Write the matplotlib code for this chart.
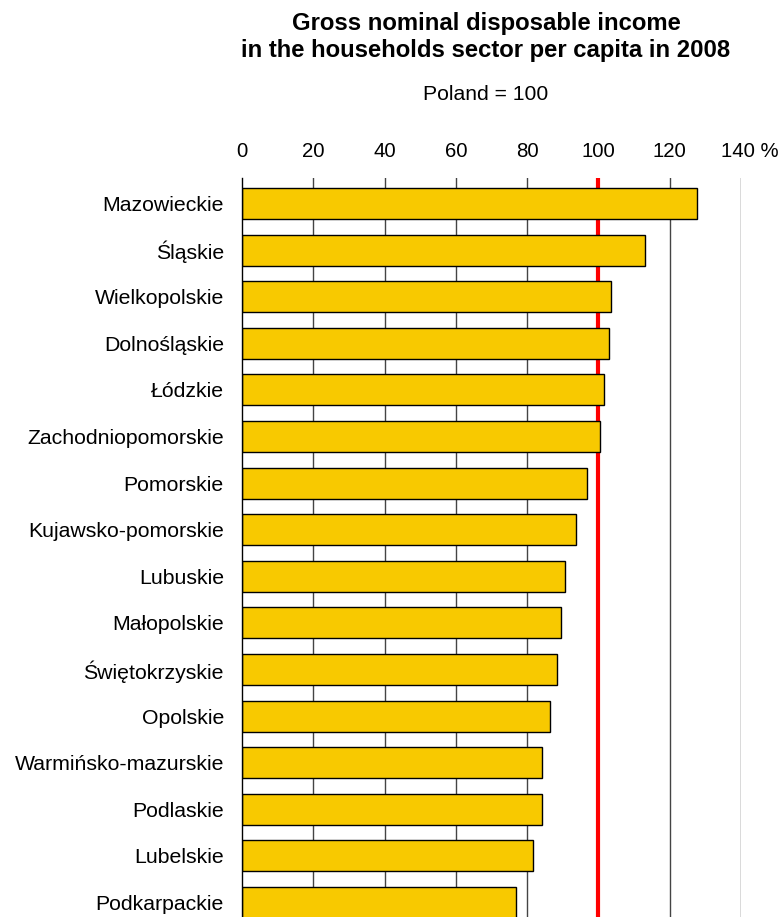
import matplotlib
matplotlib.use("Agg")
import matplotlib.pyplot as plt
import matplotlib.transforms as mtransforms

plt.rcParams['font.family'] = ['Liberation Sans', 'DejaVu Sans']

regions = ["Mazowieckie", "Śląskie", "Wielkopolskie", "Dolnośląskie", "Łódzkie",
           "Zachodniopomorskie", "Pomorskie", "Kujawsko-pomorskie", "Lubuskie",
           "Małopolskie", "Świętokrzyskie", "Opolskie", "Warmińsko-mazurskie",
           "Podlaskie", "Lubelskie", "Podkarpackie"]
values = [127.7, 113.0, 103.5, 103.1, 101.6, 100.5, 96.7, 93.7, 90.7,
          89.5, 88.4, 86.5, 84.2, 84.2, 81.6, 77.0]
xticks = [0, 20, 40, 60, 80, 100, 120, 140]
xticklabels = ["0", "20", "40", "60", "80", "100", "120", "140 %"]
reference = 100

W, H = 781, 917
fig = plt.figure(figsize=(W / 100, H / 100), dpi=100)
ax = fig.add_axes([242 / W, 0, (741 - 242) / W, (917 - 178) / H])

ypos = list(range(len(regions)))
for x in xticks[1:]:
    ax.axvline(x, color='#444444', lw=1.0, zorder=1)
ax.axvline(reference, color='#ff0000', lw=3.0, zorder=2)
ax.barh(ypos, values, height=0.665, color='#f8c900', edgecolor='black',
        linewidth=1.0, zorder=3)

ax.set_xlim(0, 140)
ax.set_ylim(15.311, -0.547)
ax.set_yticks(ypos)
ax.set_yticklabels(regions, fontsize=15.3)
ax.set_xticks(xticks)
ax.set_xticklabels(xticklabels, fontsize=14.7)
ax.xaxis.tick_top()
ax.tick_params(axis='x', length=0, pad=12.5)
ax.tick_params(axis='y', length=0, pad=13)
for s in ['top', 'right', 'bottom']:
    ax.spines[s].set_visible(False)
ax.spines['left'].set_color('black')
ax.spines['left'].set_linewidth(1.0)
ax.spines['left'].set_zorder(4)

lbl = ax.get_xticklabels()[-1]
lbl.set_transform(lbl.get_transform() + mtransforms.ScaledTranslation(9 / 100, 0, fig.dpi_scale_trans))

fig.text(486 / W, 1 - 37 / H, "Gross nominal disposable income\nin the households sector per capita in 2008",
         ha='center', va='center', fontsize=17.2, fontweight='bold', linespacing=1.27)
fig.text(486 / W, 1 - 95 / H, "Poland = 100", ha='center', va='center', fontsize=15.2)

fig.savefig("out.png", dpi=100)
